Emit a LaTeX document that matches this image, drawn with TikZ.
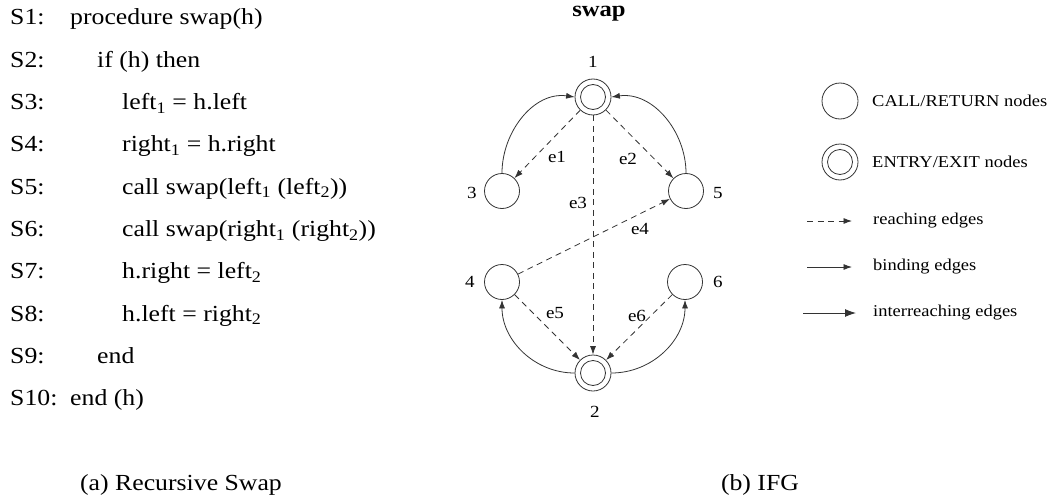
\documentclass[tikz,border=0pt]{standalone}
\usepackage{fontspec}
\setmainfont{Liberation Serif}[FakeStretch=1.12]
\usetikzlibrary{arrows.meta}
\begin{document}
\begin{tikzpicture}[x=1pt,y=-1pt,
  codetext/.style={anchor=base west,inner sep=0pt,font=\fontsize{23}{28}\selectfont},
  captext/.style={anchor=base,inner sep=0pt,font=\fontsize{23}{28}\selectfont},
  numtext/.style={inner sep=0pt,font=\fontsize{17}{20}\selectfont},
  elabel/.style={inner sep=0pt,font=\fontsize{17}{20}\selectfont},
  legtext/.style={anchor=west,inner sep=0pt,font=\fontsize{16.5}{20}\selectfont},
  crnode/.style={circle,draw=black!80,line width=0.8pt,minimum size=35pt,inner sep=0pt},
  eenode/.style={circle,draw=black!80,line width=0.8pt,minimum size=36pt,inner sep=0pt,
    path picture={\draw[black!80,line width=0.8pt] (path picture bounding box.center) circle (12.5pt);}},
  reach/.style={draw=black!80,line width=0.8pt,dash pattern=on 6pt off 4.5pt,-{Latex[length=8.5pt,width=6pt]}},
  bind/.style={draw=black!80,line width=0.8pt,-{Latex[length=8.5pt,width=6pt]}},
  inter/.style={draw=black!80,line width=0.9pt,-{Latex[length=11pt,width=8pt]}}
]
\useasboundingbox (0,0) rectangle (1052,503);
% code listing
\foreach \i/\s/\x/\t in {0/S1:/70/{procedure swap(h)},
  1/S2:/97/{if (h) then},
  2/S3:/122/{left\textsubscript{1} = h.left},
  3/S4:/122/{right\textsubscript{1} = h.right},
  4/S5:/122/{call swap(left\textsubscript{1} (left\textsubscript{2}))},
  5/S6:/122/{call swap(right\textsubscript{1} (right\textsubscript{2}))},
  6/S7:/122/{h.right = left\textsubscript{2}},
  7/S8:/122/{h.left = right\textsubscript{2}},
  8/S9:/97/{end},
  9/S10:/70/{end (h)}}{
  \node[codetext] (lab\i) at (10,{25+42.3*\i}) {\s};
  \node[codetext] (line\i) at (\x,{25+42.3*\i}) {\t};
}
\node[captext] (capa) at (181,490) {(a) Recursive Swap};
\node[captext] (capb) at (760,490) {(b) IFG};
% IFG
\node[inner sep=0pt,font=\fontsize{22}{26}\selectfont\bfseries] (title) at (599,14) {swap};
\node[eenode] (n1) at (593,97) {};
\node[eenode] (n2) at (593,373) {};
\node[crnode] (n3) at (502,191) {};
\node[crnode] (n5) at (686,191) {};
\node[crnode] (n4) at (502,282) {};
\node[crnode] (n6) at (685,282) {};
\node[numtext] (l1) at (593,62) {1};
\node[numtext] (l2) at (595,412) {2};
\node[numtext] (l3) at (472,193) {3};
\node[numtext] (l5) at (718,193) {5};
\node[numtext] (l4) at (470,282) {4};
\node[numtext] (l6) at (718,282) {6};
% binding edges
\draw[bind] (n3.north) to[out=90,in=172] (n1.west);
\draw[bind] (n5.north) to[out=90,in=8] (n1.east);
\draw[bind] (n2.west) to[out=180,in=-90] (n4.south);
\draw[bind] (n2.east) to[out=0,in=-90] (n6.south);
% reaching edges
\draw[reach] (n1) -- (n3);
\draw[reach] (n1) -- (n5);
\draw[reach] (n1) -- (n2);
\draw[reach] (n4) -- (n5);
\draw[reach] (n4) -- (n2);
\draw[reach] (n6) -- (n2);
\node[elabel] (e1) at (557,157) {e1};
\node[elabel] (e2) at (628,159) {e2};
\node[elabel] (e3) at (578,203) {e3};
\node[elabel] (e4) at (640,229) {e4};
\node[elabel] (e5) at (555,313) {e5};
\node[elabel] (e6) at (637,316) {e6};
% legend
\node[crnode,minimum size=36pt] (k1) at (840,101) {};
\node[eenode] (k2) at (840,162) {};
\node[legtext] (t1) at (872,101) {CALL/RETURN nodes};
\node[legtext] (t2) at (872,162) {ENTRY/EXIT nodes};
\coordinate (r1) at (807,221); \coordinate (r2) at (852,221);
\coordinate (b1) at (807,267); \coordinate (b2) at (852,267);
\coordinate (i1) at (803,313); \coordinate (i2) at (856,313);
\draw[reach] (r1) -- (r2);
\draw[bind] (b1) -- (b2);
\draw[inter] (i1) -- (i2);
\node[legtext] (t3) at (873,221) {reaching edges};
\node[legtext] (t4) at (873,267) {binding edges};
\node[legtext] (t5) at (873,313) {interreaching edges};
\end{tikzpicture}
\end{document}
